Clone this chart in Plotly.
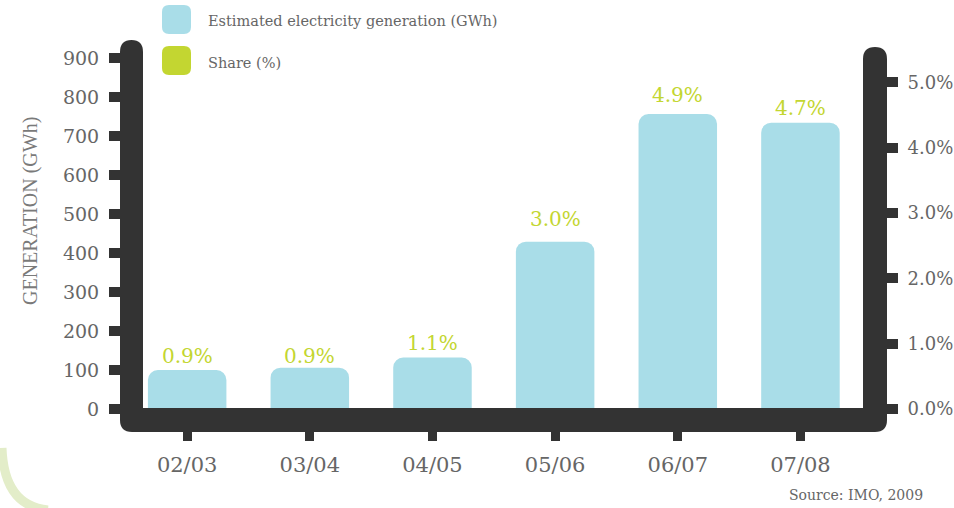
import plotly.graph_objects as go

# ---------------- data ----------------
categories = ["02/03", "03/04", "04/05", "05/06", "06/07", "07/08"]
generation_gwh = [100, 106, 132, 429, 756, 734]
share_pct = [0.9, 0.9, 1.1, 3.0, 4.9, 4.7]
left_tick_vals = [0, 100, 200, 300, 400, 500, 600, 700, 800, 900]
right_tick_vals = [0, 1, 2, 3, 4, 5]

# ---------------- style ----------------
BLUE = "#a9dde8"
GREEN = "#c3d631"
DARK = "#333333"
GREY = "#666666"
NUM_FONT = "DejaVu Serif"
TXT_FONT = "DejaVu Serif"

W_PX, H_PX = 954, 508
L, R, T, B = 143, 863, 40, 409  # plot area in pixels
PW, PH = R - L, B - T


def px(x):
    return (x - L) / PW


def py(y):
    return (B - y) / PH


def P(x, y):
    return f"{px(x):.5f},{py(y):.5f}"


def rrect(x0, y0, x1, y1, r):
    return (f"M {P(x0 + r, y0)} L {P(x1 - r, y0)} Q {P(x1, y0)} {P(x1, y0 + r)} "
            f"L {P(x1, y1 - r)} Q {P(x1, y1)} {P(x1 - r, y1)} "
            f"L {P(x0 + r, y1)} Q {P(x0, y1)} {P(x0, y1 - r)} "
            f"L {P(x0, y0 + r)} Q {P(x0, y0)} {P(x0 + r, y0)} Z")


fig = go.Figure()

fig.add_trace(go.Bar(
    x=categories, y=generation_gwh, width=0.64,
    marker=dict(color=BLUE, line=dict(width=0), cornerradius=10),
    name="Estimated electricity generation (GWh)", showlegend=False,
    hoverinfo="x+y",
))

# invisible trace so the share axis (y2) is active
fig.add_trace(go.Scatter(
    x=categories, y=share_pct, yaxis="y2", mode="markers",
    marker=dict(size=1, opacity=0), name="Share (%)", showlegend=False,
    hoverinfo="x+y",
))

frame = (f"M {P(120, 52)} Q {P(120, 40)} {P(131.5, 40)} Q {P(143, 40)} {P(143, 52)} "
         f"L {P(143, 408)} L {P(863, 408)} L {P(863, 59)} "
         f"Q {P(863, 47)} {P(875, 47)} Q {P(887, 47)} {P(887, 59)} "
         f"L {P(887, 420)} Q {P(887, 432)} {P(875, 432)} "
         f"L {P(132, 432)} Q {P(120, 432)} {P(120, 420)} Z")

shapes = [
    dict(type="path", xref="paper", yref="paper", path=frame,
         fillcolor=DARK, line=dict(width=0), layer="above"),
    dict(type="path", xref="paper", yref="paper", path=rrect(162, 5, 191, 34, 7),
         fillcolor=BLUE, line=dict(width=0)),
    dict(type="path", xref="paper", yref="paper", path=rrect(162, 46, 191, 75, 7),
         fillcolor=GREEN, line=dict(width=0)),
    dict(type="path", xref="paper", yref="paper",
         path=f"M {P(2, 448)} Q {P(4, 506)} {P(48, 510)}",
         fillcolor="rgba(0,0,0,0)", line=dict(color="#e3edc9", width=9)),
]

annotations = [
    dict(xref="paper", yref="paper", x=px(206), y=py(21), xanchor="left", yanchor="middle",
         text="Estimated electricity generation (GWh)", showarrow=False,
         font=dict(family=TXT_FONT, size=14.5, color=GREY)),
    dict(xref="paper", yref="paper", x=px(206), y=py(63), xanchor="left", yanchor="middle",
         text="Share (%)", showarrow=False,
         font=dict(family=TXT_FONT, size=14.5, color=GREY)),
    dict(xref="paper", yref="paper", x=px(30), y=py(211), xanchor="center", yanchor="middle",
         text="GENERATION (GWh)", textangle=-90, showarrow=False,
         font=dict(family="Liberation Serif", size=20, color="#7a7a7a")),
    dict(xref="paper", yref="paper", x=px(925), y=py(495), xanchor="right", yanchor="middle",
         text="Source: IMO, 2009", showarrow=False,
         font=dict(family=TXT_FONT, size=14, color=GREY)),
]

# share labels placed on the share (right) axis
for cat, v in zip(categories, share_pct):
    annotations.append(dict(
        xref="x", yref="y2", x=cat, y=v, yshift=-6, showarrow=False,
        xanchor="center", yanchor="middle", text=f"{v:.1f}%",
        font=dict(family=NUM_FONT, size=20, color=GREEN),
    ))

fig.update_layout(
    width=W_PX, height=H_PX,
    margin=dict(l=L, r=W_PX - R, t=T, b=H_PX - B, pad=0, autoexpand=False),
    paper_bgcolor="white", plot_bgcolor="rgba(0,0,0,0)",
    showlegend=False, bargap=0.36,
    shapes=shapes, annotations=annotations,
    xaxis=dict(
        type="category", range=[-0.36, 5.51], showgrid=False, zeroline=False,
        automargin=False,
        showline=False, ticks="outside", ticklen=31, tickwidth=9, tickcolor=DARK,
        ticklabelstandoff=6,
        tickfont=dict(family=NUM_FONT, size=21, color=GREY),
    ),
    yaxis=dict(
        range=[0, 946], tickvals=left_tick_vals, showgrid=False, zeroline=False,
        automargin=False,
        showline=False, ticks="outside", ticklen=33, tickwidth=10, tickcolor=DARK,
        ticklabelstandoff=6,
        tickfont=dict(family=NUM_FONT, size=19, color=GREY),
    ),
    yaxis2=dict(
        overlaying="y", side="right", range=[0, 5.65], tickmode="array",
        tickvals=right_tick_vals, ticktext=[f"{v:.1f}%" for v in right_tick_vals],
        showgrid=False, zeroline=False, automargin=False,
        showline=False, ticks="outside", ticklen=34, tickwidth=10, tickcolor=DARK,
        ticklabelstandoff=6,
        tickfont=dict(family=NUM_FONT, size=18, color=GREY),
    ),
)

fig.write_html("out.html", config={"displayModeBar": False},
               post_script="document.body.style.margin='0';")
